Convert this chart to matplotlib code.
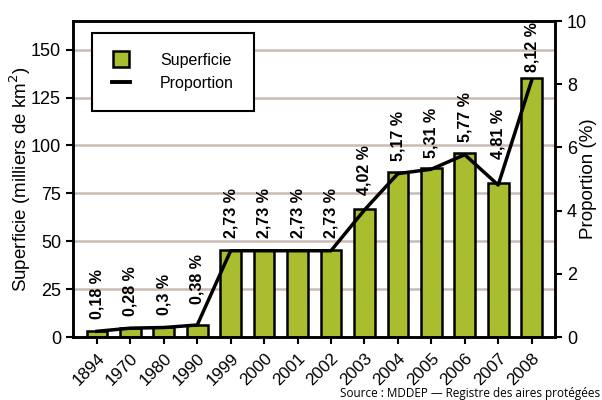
import matplotlib
matplotlib.use("Agg")
import matplotlib.pyplot as plt
from matplotlib.lines import Line2D

years = ["1894", "1970", "1980", "1990", "1999", "2000", "2001", "2002",
         "2003", "2004", "2005", "2006", "2007", "2008"]
superficie = [3.0, 4.7, 5.0, 6.3, 45.5, 45.5, 45.5, 45.5, 67.0, 86.2, 88.5, 96.2, 80.2, 135.4]
proportion = [0.18, 0.28, 0.30, 0.38, 2.73, 2.73, 2.73, 2.73, 4.02, 5.17, 5.31, 5.77, 4.81, 8.12]
prop_labels = ["0,18 %", "0,28 %", "0,3 %", "0,38 %", "2,73 %", "2,73 %", "2,73 %", "2,73 %",
               "4,02 %", "5,17 %", "5,31 %", "5,77 %", "4,81 %", "8,12 %"]
left_ticks = [0, 25, 50, 75, 100, 125, 150]
right_ticks = [0, 2, 4, 6, 8, 10]

# label offsets above the line (points) -- styling only
label_offsets = [9, 9, 9, 15, 9, 9, 9, 9, 11, 9, 8, 9, 19, 6]

plt.rcParams['font.family'] = ['Liberation Sans', 'DejaVu Sans']

BAR = "#a9bd2f"
GRID = "#c9bcb5"

fig = plt.figure(figsize=(6.02, 4.00), dpi=100)
ax = fig.add_axes([0.121, 0.1575, 0.801, 0.79])
x = list(range(len(years)))

ax.set_axisbelow(True)
ax.yaxis.grid(True, color=GRID, linewidth=1.8)
ax.bar(x, superficie, width=0.62, color=BAR, edgecolor="black", linewidth=1.8, zorder=2)
ax.set_ylim(0, 165)
ax.set_xlim(-0.72, 13.7)
ax.set_yticks(left_ticks)
ax.set_xticks(x)
ax.set_xticklabels(years, rotation=45, ha="right", rotation_mode="anchor", fontsize=12.3)
ax.tick_params(axis="y", labelsize=13, width=1.5, length=5)
ax.tick_params(axis="x", width=1.5, length=5, pad=5)
ax.set_ylabel("Superficie (milliers de km$^2$)", fontsize=13.5)
ax.yaxis.set_label_coords(-0.083, 0.5)

ax2 = ax.twinx()
ax2.plot(x, proportion, color="black", linewidth=2.5, zorder=3)
ax2.set_ylim(0, 10)
ax2.set_yticks(right_ticks)
ax2.tick_params(axis="y", labelsize=13, width=1.5, length=5)
ax2.set_ylabel("Proportion (%)", fontsize=13.5)
ax2.yaxis.set_label_coords(1.052, 0.5)
for xi, p, lab, off in zip(x, proportion, prop_labels, label_offsets):
    ax2.annotate(lab, (xi, p), xytext=(0, off), textcoords="offset points",
                 rotation=90, ha="center", va="bottom", fontsize=11.5, fontweight="bold")

for a in (ax, ax2):
    for s in a.spines.values():
        s.set_linewidth(1.8)

handles = [Line2D([], [], marker="s", linestyle="none", markersize=11.5,
                  markerfacecolor=BAR, markeredgecolor="black", markeredgewidth=1.8),
           Line2D([], [], color="black", linewidth=2.8)]
leg = ax2.legend(handles, ["Superficie", "Proportion"], loc="upper left",
                 bbox_to_anchor=(0.04, 0.963), fontsize=11.5, frameon=True, fancybox=False,
                 edgecolor="black", framealpha=1, handlelength=1.1, handletextpad=1.9,
                 borderpad=1.25, labelspacing=0.5, borderaxespad=0)
leg.get_frame().set_linewidth(1.5)

fig.text(0.997, 0.001, "Source : MDDEP — Registre des aires protégées",
         ha="right", va="bottom", fontsize=8.5, family=["Open Sans", "DejaVu Sans"])

fig.savefig("out.png", dpi=100)
